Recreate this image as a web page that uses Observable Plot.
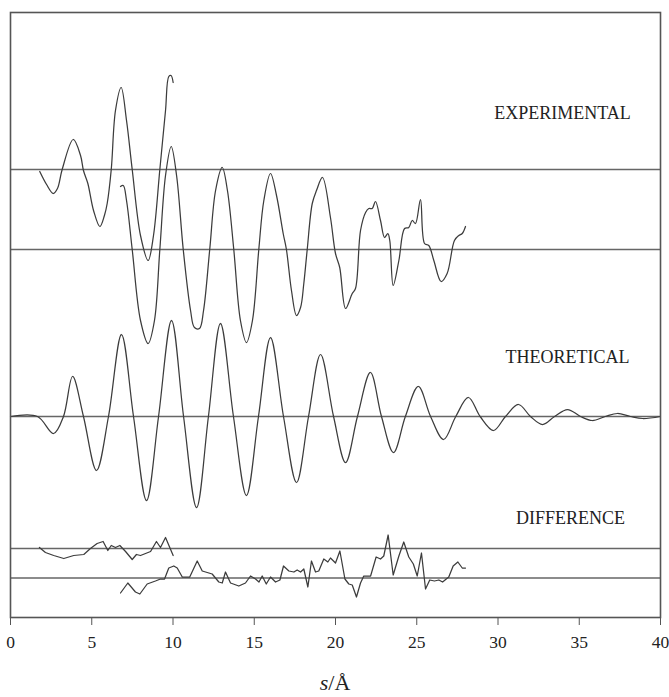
<!DOCTYPE html>
<html><head><meta charset="utf-8">
<script src="https://cdn.jsdelivr.net/npm/d3@7"></script>
<script src="https://cdn.jsdelivr.net/npm/@observablehq/plot@0.6"></script>
<style>
body{margin:0;background:#fff}
#chart svg{display:block}
#chart svg text{font-family:'Liberation Serif','Times New Roman',serif}
</style>
</head><body><div id="chart"></div>
<script>
// x tick values
const sTicks = [0, 5, 10, 15, 20, 25, 30, 35, 40];

// vertical offsets (baselines) of the stacked curves, arbitrary intensity units
const offsetNames = ["expLong", "expShort", "theory", "diffLong", "diffShort"];
const offsetValues = [448, 368, 201, 69, 39.5];

// Experimental, long camera distance
const expLongS = [1.80, 2.22, 2.63, 2.89, 3.18, 3.86, 4.31, 4.49, 4.76, 5.11, 5.50, 5.78, 5.95, 6.20, 6.46, 6.81, 7.14, 7.49, 8.00, 8.47, 8.80, 9.19, 9.54, 9.74, 9.88, 10.01];
const expLongI = [-2, -15, -24, -19, 0, 30, 14, -1, -14, -41, -57, -46, -34, 0, 59, 82, 49, 0, -66, -91, -66, 0, 59, 93, 94, 87];

// Experimental, short camera distance
const expShortS = [6.77, 6.94, 7.14, 7.49, 8.00, 8.47, 8.86, 9.19, 9.54, 9.89, 10.22, 10.63, 11.08, 11.32, 11.63, 11.88, 12.26, 12.62, 13.03, 13.35, 13.74, 14.15, 14.52, 14.89, 15.28, 15.59, 16.00, 16.37, 16.78, 16.98, 17.29, 17.60, 17.85, 18.05, 18.26, 18.57, 18.83, 19.20, 19.69, 20.00, 20.26, 20.62, 21.03, 21.23, 21.54, 21.85, 22.05, 22.26, 22.46, 22.77, 23.02, 23.22, 23.34, 23.55, 23.90, 24.25, 24.51, 24.72, 24.92, 25.23, 25.48, 25.74, 26.05, 26.50, 26.87, 27.32, 27.59, 27.80, 28.00];
const expShortI = [63, 64, 49, 0, -71, -94, -71, 0, 74, 103, 74, 0, -61, -78, -79, -61, 0, 59, 82, 59, 0, -71, -93, -71, 0, 49, 76, 54, 16, 0, -41, -66, -58, -34, 0, 46, 59, 72, 32, -4, -18, -59, -44, -39, 19, 37, 41, 41, 48, 29, 12, 16, 9, -36, -11, 21, 22, 29, 26, 50, 6, 4, -11, -32, -24, 9, 14, 16, 23];

// Theoretical curve
const theoryS = [0, 1.66, 2.65, 3.26, 3.82, 4.49, 5.29, 6.03, 6.83, 7.57, 8.37, 9.11, 9.91, 10.65, 11.45, 12.18, 12.92, 13.72, 14.52, 15.26, 16.00, 16.80, 17.60, 18.34, 19.08, 19.88, 20.62, 21.35, 22.15, 22.83, 23.57, 24.30, 25.10, 25.85, 26.65, 27.40, 28.18, 28.90, 29.72, 30.46, 31.26, 32.00, 32.74, 33.48, 34.28, 35.08, 35.80, 36.60, 37.35, 38.15, 38.90, 40];
const theoryI = [0, 0, -17, 0, 40, 0, -54, 0, 82, 0, -84, 0, 96, 0, -91, 0, 93, 0, -79, 0, 79, 0, -66, 0, 62, 0, -46, 0, 44, 0, -36, 0, 30, 0, -23, 0, 19, 0, -14, 0, 12, 0, -8, 0, 7, 0, -4, 0, 3, 0, -2, 0];

// Difference, long camera distance
const diffLongS = [1.78, 2.15, 2.66, 3.28, 3.89, 4.51, 4.92, 5.33, 5.70, 5.99, 6.20, 6.46, 6.73, 7.08, 7.49, 7.75, 8.00, 8.62, 8.98, 9.23, 9.54, 10.01];
const diffLongI = [1, -4, -7, -10, -7, -6, 0, 5, 7, -2, 3, 1, 3, -3, -11, -6, -7, -3, 7, 1, 11, -7];

// Difference, short camera distance
const diffShortS = [6.77, 7.22, 7.69, 7.96, 8.41, 8.92, 9.23, 9.48, 9.74, 10.05, 10.26, 10.57, 11.03, 11.49, 11.80, 12.41, 12.82, 13.03, 13.23, 13.54, 14.05, 14.46, 14.77, 15.08, 15.29, 15.49, 15.74, 16.00, 16.31, 16.58, 16.80, 17.13, 17.44, 17.64, 17.85, 18.05, 18.30, 18.52, 18.77, 18.97, 19.28, 19.53, 19.69, 20.00, 20.27, 20.58, 20.82, 21.03, 21.29, 21.54, 21.74, 22.16, 22.50, 22.77, 22.97, 23.24, 23.55, 23.90, 24.20, 24.51, 24.79, 25.03, 25.29, 25.54, 25.80, 26.09, 26.36, 26.59, 26.97, 27.24, 27.53, 27.80, 28.00];
const diffShortI = [-15, -5, -14, -16, -6, -3, -1, -1, 10, 12, 10, 1, 1, 17, 7, 4, -4, -5, 6, -5, -8, -5, 2, -1, -4, 2, -6, 1, -4, -2, 12, 7, 6, 8, 6, 9, -9, 17, 6, 7, 19, 16, 20, 15, 27, -1, -6, -7, -19, -5, 2, 2, 21, 19, 22, 43, 3, 22, 36, 21, 14, 2, 25, -11, -2, -3, -2, -4, 1, 12, 16, 10, 10];

// Panel labels
const panelLabels = ["EXPERIMENTAL", "THEORETICAL", "DIFFERENCE"];
const panelLabelS = [33.97, 34.28, 34.46];
const panelLabelV = [504, 260, 99];

const off = Object.fromEntries(offsetNames.map((n, i) => [n, offsetValues[i]]));
function rows(name, S, I) {
  return S.map((s, i) => ({name, s, v: I[i] + off[name]}));
}
const smoothRows = [
  ...rows("expLong", expLongS, expLongI),
  ...rows("expShort", expShortS, expShortI),
  ...rows("theory", theoryS, theoryI)
];
const jaggedRows = [
  ...rows("diffLong", diffLongS, diffLongI),
  ...rows("diffShort", diffShortS, diffShortI)
];
const labelRows = panelLabels.map((t, i) => ({t, s: panelLabelS[i], v: panelLabelV[i]}));

const font = "'Liberation Serif', 'Times New Roman', serif";

const chart = Plot.plot({
  width: 669,
  height: 697,
  marginLeft: 10,
  marginRight: 9,
  marginTop: 12,
  marginBottom: 80,
  style: {fontFamily: font, fontSize: "17px", color: "#333", background: "#fff"},
  x: {domain: [0, 40]},
  y: {domain: [0, 605], axis: null},
  marks: [
    Plot.ruleY(offsetValues, {stroke: "#666", strokeWidth: 1.4}),
    Plot.line(smoothRows, {x: "s", y: "v", z: "name", curve: "catmull-rom", stroke: "#3c3c3c", strokeWidth: 1.25}),
    Plot.line(jaggedRows, {x: "s", y: "v", z: "name", curve: "linear", stroke: "#3c3c3c", strokeWidth: 1.25}),
    Plot.text(labelRows, {x: "s", y: "v", text: "t", fontSize: 18, fontFamily: font, fill: "#222", textAnchor: "middle"}),
    Plot.frame({stroke: "#555", strokeWidth: 1.6}),
    Plot.axisX({ticks: sTicks, tickSize: 8, tickPadding: 10, label: null, fontSize: 17.5, fontFamily: font, fontVariant: "normal", stroke: "#555", fill: "#222"})
  ]
});
document.getElementById("chart").appendChild(chart);

// axis title with italic s
const svg = d3.select(chart);
const t = svg.append("text")
  .attr("x", 335).attr("y", 690)
  .attr("text-anchor", "middle")
  .attr("font-family", font)
  .attr("font-size", 22)
  .attr("fill", "#222");
t.append("tspan").attr("font-style", "italic").text("s");
t.append("tspan").text("/Å");
</script>
</body></html>
